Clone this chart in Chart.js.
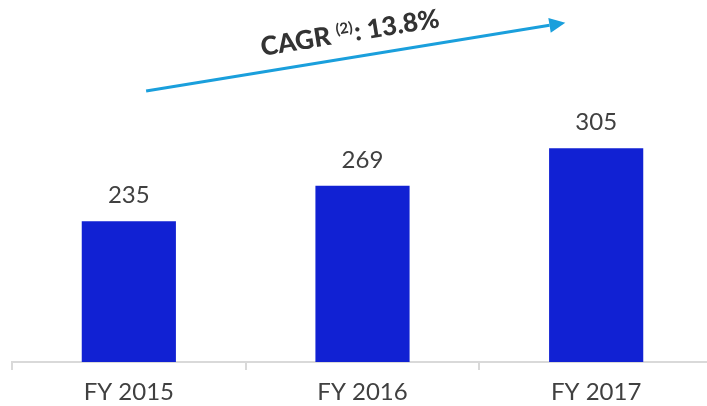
<!DOCTYPE html>
<html>
<head>
<meta charset="utf-8">
<script src="https://cdn.jsdelivr.net/npm/chart.js@4.4.0/dist/chart.umd.min.js"></script>
<style>
  html, body { margin: 0; padding: 0; background: #fff; overflow: hidden; }
  #wrap { position: relative; width: 713px; height: 406px; }
</style>
</head>
<body>
<div id="wrap"><canvas id="c"></canvas></div>
<script>
const categories = ['FY 2015', 'FY 2016', 'FY 2017'];
const revenue = [235, 269, 305];
const cagrLabel = 'CAGR';
const cagrNote = '(2)';
const cagrValue = ': 13.8%';
// arrow endpoints in data space: [category index, value]
const arrowFrom = [0.074, 359.8];
const arrowTo = [1.868, 425.3];
const textAnchor = [0.571, 393.4];

const FONT = 'Lato, "Open Sans", sans-serif';

const annotate = {
  id: 'annotate',
  afterDatasetsDraw(chart) {
    const ctx = chart.ctx;
    const xs = chart.scales.x, ys = chart.scales.y;
    // value labels
    const meta = chart.getDatasetMeta(0);
    ctx.save();
    ctx.fillStyle = '#404040';
    ctx.font = '24px ' + FONT;
    ctx.textAlign = 'center';
    ctx.textBaseline = 'alphabetic';
    meta.data.forEach((bar, i) => {
      ctx.fillText(String(revenue[i]), bar.x, bar.y - 18);
    });
    ctx.restore();

    // arrow
    const x1 = xs.getPixelForValue(arrowFrom[0]), y1 = ys.getPixelForValue(arrowFrom[1]);
    const x2 = xs.getPixelForValue(arrowTo[0]), y2 = ys.getPixelForValue(arrowTo[1]);
    const ang = Math.atan2(y2 - y1, x2 - x1);
    const headLen = 16, headHalf = 7.5;
    const bx = x2 - headLen * Math.cos(ang), by = y2 - headLen * Math.sin(ang);
    ctx.save();
    ctx.strokeStyle = '#1a9fdc';
    ctx.fillStyle = '#1a9fdc';
    ctx.lineWidth = 3;
    ctx.beginPath();
    ctx.moveTo(x1, y1);
    ctx.lineTo(bx, by);
    ctx.stroke();
    ctx.beginPath();
    ctx.moveTo(x2, y2);
    ctx.lineTo(bx + headHalf * Math.sin(ang), by - headHalf * Math.cos(ang));
    ctx.lineTo(bx - headHalf * Math.sin(ang), by + headHalf * Math.cos(ang));
    ctx.closePath();
    ctx.fill();
    ctx.restore();

    // CAGR text
    const tx = xs.getPixelForValue(textAnchor[0]), ty = ys.getPixelForValue(textAnchor[1]);
    ctx.save();
    ctx.translate(tx, ty);
    ctx.rotate(ang);
    ctx.fillStyle = '#333333';
    ctx.textAlign = 'left';
    ctx.textBaseline = 'alphabetic';
    ctx.font = '900 26px ' + FONT;
    let w = ctx.measureText(cagrLabel + ' ').width;
    ctx.fillText(cagrLabel + ' ', 0, 0);
    ctx.font = '700 15px ' + FONT;
    ctx.fillText(cagrNote, w, -9);
    w += ctx.measureText(cagrNote).width + 1;
    ctx.font = '900 26px ' + FONT;
    ctx.fillText(cagrValue, w, 0);
    ctx.restore();
  }
};

new Chart(document.getElementById('c'), {
  type: 'bar',
  data: {
    labels: categories,
    datasets: [{
      data: revenue,
      backgroundColor: '#1121d3',
      borderWidth: 0,
      barPercentage: 0.403,
      categoryPercentage: 1.0
    }]
  },
  options: {
    responsive: true,
    maintainAspectRatio: false,
    animation: false,
    events: [],
    layout: { padding: { top: 7.4, left: 12, right: 0, bottom: 0 } },
    plugins: { legend: { display: false }, tooltip: { enabled: false } },
    scales: {
      x: {
        type: 'category',
        offset: true,
        afterFit: s => { s.height = 44; },
        grid: {
          offset: true,
          drawOnChartArea: false,
          drawTicks: true,
          tickLength: 8,
          color: '#d9d9d9',
          lineWidth: 2
        },
        border: { display: true, color: '#d9d9d9', width: 2 },
        ticks: {
          color: '#404040',
          font: { family: FONT, size: 24 },
          padding: 8
        }
      },
      y: {
        display: false,
        min: 100,
        max: 440
      }
    }
  },
  plugins: [annotate]
});
</script>
</body>
</html>
